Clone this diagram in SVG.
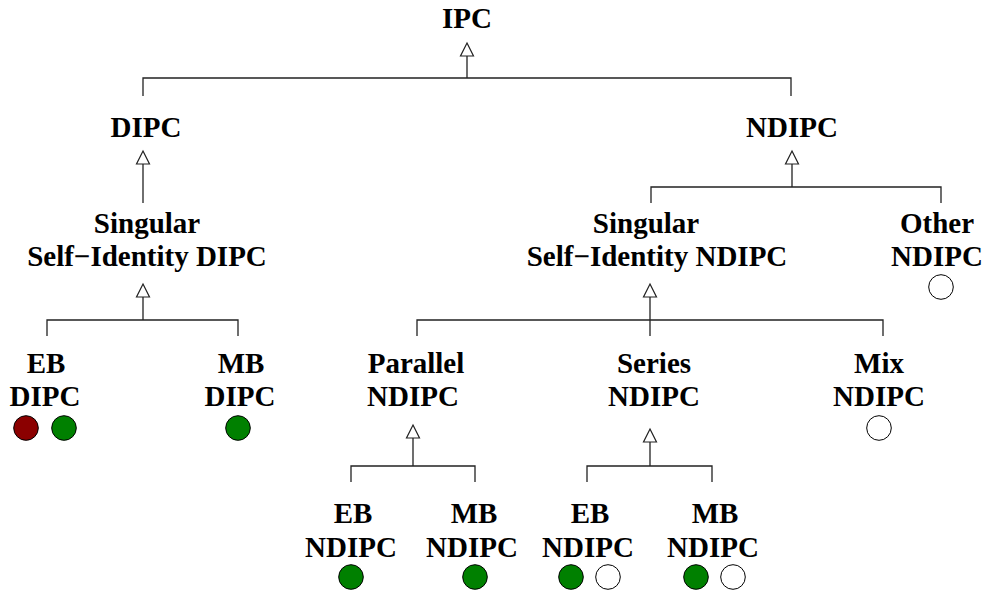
<svg xmlns="http://www.w3.org/2000/svg" width="989" height="595" viewBox="0 0 989 595">
<style>
text{font-family:"Liberation Serif","Times New Roman",serif;font-weight:bold;font-size:29px;fill:#000;text-anchor:middle}
.ln{stroke:#222;stroke-width:1.3;fill:none}
.tri{fill:#fff;stroke:#222;stroke-width:1.2}
.c{stroke:#000;stroke-width:1}
.g{fill:#008000}
.r{fill:#8b0000}
.w{fill:#fff}
</style>
<defs>
<path id="tri" class="tri" d="M0,0 L6.5,13 L-6.5,13 Z"/>
</defs>
<rect width="989" height="595" fill="#fff"/>
<g id="connectors">
<path class="ln" d="M467,56 V78 M143,96 V78 H791 V96"/>
<use href="#tri" x="467" y="43"/>
<path class="ln" d="M143,164 V203"/>
<use href="#tri" x="143" y="151"/>
<path class="ln" d="M792,164 V187 M651,203 V187 H941 V203"/>
<use href="#tri" x="792" y="151"/>
<path class="ln" d="M143,297 V320 M47,336 V320 H238 V336"/>
<use href="#tri" x="143" y="284"/>
<path class="ln" d="M650,297 V336 M417,336 V320 H883 V336"/>
<use href="#tri" x="650" y="284"/>
<path class="ln" d="M413,438 V466 M351,482 V466 H475 V482"/>
<use href="#tri" x="413" y="425"/>
<path class="ln" d="M650,442 V466 M587,482 V466 H712 V482"/>
<use href="#tri" x="650" y="429"/>
</g>
<g id="ipc"><text x="467" y="28">IPC</text></g>
<g id="dipc"><text x="146" y="137">DIPC</text></g>
<g id="ndipc"><text x="792" y="137">NDIPC</text></g>
<g id="ssi-dipc"><text x="147" y="233">Singular</text><text x="147" y="266">Self−Identity DIPC</text></g>
<g id="ssi-ndipc"><text x="646" y="233">Singular</text><text x="657" y="266">Self−Identity NDIPC</text></g>
<g id="other-ndipc"><text x="937" y="233">Other</text><text x="937" y="266">NDIPC</text><circle class="c w" cx="941" cy="287" r="12.3"/></g>
<g id="eb-dipc"><text x="46" y="373">EB</text><text x="45" y="406">DIPC</text><circle class="c r" cx="26" cy="428" r="12.3"/><circle class="c g" cx="64" cy="428" r="12.3"/></g>
<g id="mb-dipc"><text x="241" y="373">MB</text><text x="240" y="406">DIPC</text><circle class="c g" cx="238" cy="428" r="12.3"/></g>
<g id="parallel-ndipc"><text x="416" y="373">Parallel</text><text x="413" y="406">NDIPC</text></g>
<g id="series-ndipc"><text x="654" y="373">Series</text><text x="654" y="406">NDIPC</text></g>
<g id="mix-ndipc"><text x="879" y="373">Mix</text><text x="879" y="406">NDIPC</text><circle class="c w" cx="879" cy="428" r="12.3"/></g>
<g id="eb-ndipc-p"><text x="353" y="523">EB</text><text x="351" y="557">NDIPC</text><circle class="c g" cx="351" cy="577" r="12.3"/></g>
<g id="mb-ndipc-p"><text x="474" y="523">MB</text><text x="472" y="557">NDIPC</text><circle class="c g" cx="475" cy="577" r="12.3"/></g>
<g id="eb-ndipc-s"><text x="590" y="523">EB</text><text x="588" y="557">NDIPC</text><circle class="c g" cx="571" cy="577" r="12.3"/><circle class="c w" cx="608" cy="577" r="12.3"/></g>
<g id="mb-ndipc-s"><text x="715" y="523">MB</text><text x="713" y="557">NDIPC</text><circle class="c g" cx="696" cy="577" r="12.3"/><circle class="c w" cx="733" cy="577" r="12.3"/></g>
</svg>
